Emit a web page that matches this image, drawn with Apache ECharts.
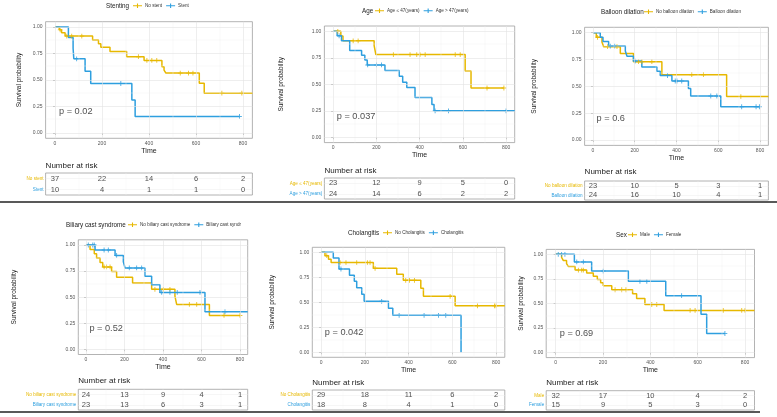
<!DOCTYPE html>
<html><head><meta charset="utf-8">
<script src="https://cdn.jsdelivr.net/npm/echarts@6/dist/echarts.min.js"></script>
<style>html,body{margin:0;padding:0;background:#fff}#c{width:777px;height:417px}</style>
</head><body><div id="c"></div>
<script>
// ---------- shared ticks ----------
const xTicks = [0, 200, 400, 600, 800];
const xMinor = [100, 300, 500, 700];
const yTicks = [0, 0.25, 0.5, 0.75, 1];
const yMinor = [0.125, 0.375, 0.625, 0.875];

// ---------- Panel 1: Stenting ----------
const stentGroups = ['No stent', 'Stent'];
const stentNoT = [0, 18, 28, 43, 160, 185, 195, 234, 305, 379, 455, 464, 472, 614, 635, 840];
const stentNoS = [1, 0.973, 0.946, 0.914, 0.878, 0.843, 0.808, 0.770, 0.72, 0.685, 0.626, 0.594, 0.565, 0.47, 0.376, 0.376];
const stentNoC = [22, 50, 71, 114, 355, 391, 412, 433, 533, 568, 587, 710, 795];
const stentYesT = [0, 57, 77, 80, 128, 152, 327, 341, 785];
const stentYesS = [1, 0.9, 0.8, 0.7, 0.583, 0.467, 0.311, 0.156, 0.156];
const stentYesC = [92, 280, 785];
const stentRisk = [[37, 22, 14, 6, 2], [10, 4, 1, 1, 0]];
const stentP = 'p = 0.02';

// ---------- Panel 2: Age ----------
const ageGroups = ['Age \u2264 47(years)', 'Age > 47(years)'];
const ageLowT = [0, 36, 46, 190, 198, 611, 638, 790];
const ageLowS = [1, 0.955, 0.91, 0.865, 0.78, 0.626, 0.465, 0.465];
const ageLowC = [22, 93, 116, 279, 356, 387, 402, 426, 565, 588, 712, 790];
const ageHighT = [0, 19, 39, 77, 132, 147, 158, 240, 306, 322, 341, 379, 457, 467, 840];
const ageHighS = [1, 0.958, 0.912, 0.82, 0.775, 0.73, 0.683, 0.63, 0.575, 0.52, 0.47, 0.375, 0.31, 0.25, 0.25];
const ageHighC = [28, 160, 201, 224, 472, 534, 800];
const ageRisk = [[23, 12, 9, 5, 0], [24, 14, 6, 2, 2]];
const ageP = 'p = 0.037';

// ---------- Panel 3: Balloon dilation ----------
const balloonGroups = ['No balloon dilation', 'Balloon dilation'];
const balloonNoT = [0, 16, 43, 51, 131, 194, 330, 640, 840];
const balloonNoS = [1, 0.957, 0.913, 0.87, 0.806, 0.73, 0.609, 0.405, 0.405];
const balloonNoC = [22, 70, 115, 218, 234, 282, 473, 529, 708];
const balloonYesT = [0, 35, 48, 75, 155, 163, 194, 234, 306, 322, 378, 457, 468, 612, 797];
const balloonYesS = [1, 0.958, 0.917, 0.875, 0.83, 0.78, 0.735, 0.68, 0.64, 0.6, 0.55, 0.48, 0.41, 0.31, 0.31];
const balloonYesC = [83, 104, 202, 357, 394, 402, 425, 564, 593, 712, 781, 797];
const balloonRisk = [[23, 10, 5, 3, 1], [24, 16, 10, 4, 1]];
const balloonP = 'p = 0.6';

// ---------- Panel 4: Biliary cast syndrome ----------
const biliaryGroups = ['No biliary cast syndrome', 'Biliary cast syndrome'];
const biliaryNoT = [0, 21, 43, 55, 73, 87, 133, 159, 242, 341, 462, 471, 641, 800];
const biliaryNoS = [1, 0.958, 0.917, 0.875, 0.833, 0.79, 0.745, 0.69, 0.635, 0.575, 0.51, 0.43, 0.325, 0.325];
const biliaryNoC = [94, 107, 125, 358, 402, 436, 537, 575, 717, 800];
const biliaryYesT = [0, 47, 151, 194, 203, 306, 341, 384, 618, 840];
const biliaryYesS = [1, 0.952, 0.9, 0.84, 0.78, 0.70, 0.62, 0.545, 0.36, 0.36];
const biliaryYesC = [12, 35, 43, 94, 116, 159, 225, 263, 289, 393, 436, 474, 592, 722];
const biliaryRisk = [[24, 13, 9, 4, 1], [23, 13, 6, 3, 1]];
const biliaryP = 'p = 0.52';

// ---------- Panel 5: Cholangitis ----------
const cholGroups = ['No Cholangitis', 'Cholangitis'];
const cholNoT = [0, 18, 34, 46, 239, 346, 376, 456, 468, 613, 840];
const cholNoS = [1, 0.966, 0.931, 0.897, 0.84, 0.78, 0.72, 0.64, 0.56, 0.465, 0.465];
const cholNoC = [26, 87, 114, 163, 212, 224, 247, 387, 404, 427, 590, 715, 793, 800];
const cholYesT = [0, 56, 82, 130, 152, 163, 186, 197, 308, 328, 640];
const cholYesS = [1, 0.944, 0.833, 0.77, 0.71, 0.645, 0.58, 0.51, 0.44, 0.37, 0];
const cholYesC = [91, 277, 357, 471, 537, 570];
const cholRisk = [[29, 18, 11, 6, 2], [18, 8, 4, 1, 0]];
const cholP = 'p = 0.042';

// ---------- Panel 6: Sex ----------
const sexGroups = ['Male', 'Female'];
const maleT = [0, 25, 32, 46, 54, 82, 131, 159, 176, 190, 201, 237, 325, 342, 377, 458, 840];
const maleS = [1, 0.969, 0.938, 0.906, 0.875, 0.84, 0.81, 0.778, 0.745, 0.712, 0.68, 0.64, 0.6, 0.55, 0.49, 0.43, 0.43];
const maleC = [96, 110, 117, 251, 279, 297, 406, 427, 568, 589, 708, 786, 800];
const femaleT = [0, 79, 152, 307, 465, 614, 638, 715];
const femaleS = [1, 0.923, 0.83, 0.725, 0.58, 0.39, 0.195, 0.195];
const femaleC = [11, 25, 39, 89, 117, 201, 356, 385, 532, 715];
const sexRisk = [[32, 17, 10, 4, 2], [15, 9, 5, 3, 0]];
const sexP = 'p = 0.69';

// ---------- styling / layout ----------
const YEL = '#E7B800', BLU = '#2E9FDF';
const FONT = 'Liberation Sans, Arial, sans-serif';
const CENS = 'path://M0,4h10v2h-10z M4,0h2v10h-2z';
const LEGICON = 'path://M0,4h20v2.4h-20z M8.8,0h2.4v10h-2.4z';

const panels = [
  { title: 'Stenting', groups: stentGroups, curves: [[stentNoT, stentNoS, stentNoC], [stentYesT, stentYesS, stentYesC]], risk: stentRisk, p: stentP,
    box: [45.6, 21.7, 206.8, 116.6], table: [173, 22], yGap: 22.6, leg: [106, 6, 133], nar: 166 },
  { title: 'Age', groups: ageGroups, curves: [[ageLowT, ageLowS, ageLowC], [ageHighT, ageHighS, ageHighC]], risk: ageRisk, p: ageP,
    box: [324.4, 26, 190.3, 116.6], table: [178, 21], yGap: 39.4, leg: [362, 11, 375], nar: 171 },
  { title: 'Balloon dilation', groups: balloonGroups, curves: [[balloonNoT, balloonNoS, balloonNoC], [balloonYesT, balloonYesS, balloonYesC]], risk: balloonRisk, p: balloonP,
    box: [584.6, 27.3, 183.8, 118.1], table: [181, 19], yGap: 46.6, leg: [601, 12, 644], nar: 172 },
  { title: 'Biliary cast syndrome', groups: biliaryGroups, curves: [[biliaryNoT, biliaryNoS, biliaryNoC], [biliaryYesT, biliaryYesS, biliaryYesC]], risk: biliaryRisk, p: biliaryP,
    box: [78.3, 239.8, 169.4, 114.7], table: [389.3, 20.7], yGap: 60.3, leg: [66, 225, 128], nar: 381, cut: 'Biliary cast syndr' },
  { title: 'Cholangitis', groups: cholGroups, curves: [[cholNoT, cholNoS, cholNoC], [cholYesT, cholYesS, cholYesC]], risk: cholRisk, p: cholP,
    box: [312.3, 247.3, 192.5, 110], table: [390, 20], yGap: 36.3, leg: [348, 233, 383], nar: 383 },
  { title: 'Sex', groups: sexGroups, curves: [[maleT, maleS, maleC], [femaleT, femaleS, femaleC]], risk: sexRisk, p: sexP,
    box: [546.2, 249.4, 208.3, 108.2], table: [390.7, 19.3], yGap: 21.2, leg: [616, 235, 628], nar: 383 }
];
const COLORS = [YEL, BLU];

function survAt(T, S, t) { let v = S[0]; for (let i = 0; i < T.length; i++) { if (T[i] <= t) v = S[i]; } return v; }

const grids = [], xAxes = [], yAxes = [], series = [], legends = [], graphics = [];

panels.forEach((pn, i) => {
  const gi = 2 * i, ti = 2 * i + 1;
  const [l, t, w, h] = pn.box;
  grids.push({ left: l, top: t, width: w, height: h, show: true, borderColor: '#a0a0a0', borderWidth: 0.8, backgroundColor: '#fff', containLabel: false, outerBoundsMode: 'none' });
  grids.push({ left: l, top: pn.table[0], width: w, height: pn.table[1], show: true, borderColor: '#a0a0a0', borderWidth: 0.8, backgroundColor: '#fff', containLabel: false, outerBoundsMode: 'none' });

  xAxes.push({ gridIndex: gi, type: 'value', min: -40, max: 840, name: 'Time', nameLocation: 'middle', nameGap: 9,
    nameTextStyle: { fontSize: 7, color: '#222', fontFamily: FONT },
    axisLine: { show: false }, splitLine: { show: false },
    axisTick: { show: true, customValues: xTicks, length: 2, lineStyle: { color: '#666', width: 0.6 } },
    axisLabel: { customValues: xTicks, fontSize: 5, color: '#555', margin: 2.5, fontFamily: FONT } });
  yAxes.push({ gridIndex: gi, type: 'value', min: -0.05, max: 1.05, name: 'Survival probability', nameLocation: 'middle', nameRotate: 90, nameGap: pn.yGap,
    nameTextStyle: { fontSize: 6.5, color: '#222', fontFamily: FONT },
    axisLine: { show: false }, splitLine: { show: false },
    axisTick: { show: true, customValues: yTicks, length: 2, lineStyle: { color: '#666', width: 0.6 } },
    axisLabel: { customValues: yTicks, formatter: v => Number(v).toFixed(2), fontSize: 5, color: '#555', margin: 3, fontFamily: FONT } });
  xAxes.push({ gridIndex: ti, type: 'value', min: -40, max: 840, show: false });
  const g = pn.groups;
  yAxes.push({ gridIndex: ti, type: 'value', min: 0.5, max: 2.5,
    axisLine: { show: false }, axisTick: { show: false }, splitLine: { show: false },
    axisLabel: { customValues: [1, 2], formatter: v => (Number(v) === 2 ? g[0] : g[1]), color: v => (Number(v) === 2 ? YEL : BLU),
      fontSize: 4.6, margin: 2, fontFamily: FONT } });

  // background grid lines of the survival plot
  const gl = [];
  xTicks.forEach(v => gl.push({ xAxis: v, lineStyle: { color: '#e3e3e3', width: 0.6, type: 'solid' } }));
  xMinor.forEach(v => gl.push({ xAxis: v, lineStyle: { color: '#f1f1f1', width: 0.4, type: 'solid' } }));
  yTicks.forEach(v => gl.push({ yAxis: v, lineStyle: { color: '#e3e3e3', width: 0.6, type: 'solid' } }));
  yMinor.forEach(v => gl.push({ yAxis: v, lineStyle: { color: '#f1f1f1', width: 0.4, type: 'solid' } }));
  series.push({ type: 'line', name: 'grid' + i, xAxisIndex: gi, yAxisIndex: gi, data: [], silent: true, z: 1,
    markLine: { silent: true, symbol: ['none', 'none'], label: { show: false }, animation: false, data: gl } });

  // KM curves + censor marks
  pn.curves.forEach((c, j) => {
    const [T, S, C] = c;
    series.push({ type: 'line', name: g[j], xAxisIndex: gi, yAxisIndex: gi, step: 'end', symbol: 'none', showSymbol: false,
      data: T.map((tt, k) => [tt, S[k]]), lineStyle: { color: COLORS[j], width: 1.5 }, itemStyle: { color: COLORS[j] }, z: 3, silent: true });
    series.push({ type: 'scatter', name: g[j], xAxisIndex: gi, yAxisIndex: gi, symbol: CENS, symbolSize: 4.8,
      data: C.map(tt => [tt, survAt(T, S, tt)]), itemStyle: { color: COLORS[j] }, z: 4, silent: true });
  });

  // p-value
  series.push({ type: 'scatter', name: 'p' + i, xAxisIndex: gi, yAxisIndex: gi, data: [[15, 0.2]], symbolSize: 1,
    itemStyle: { color: 'rgba(0,0,0,0)' }, silent: true, z: 5,
    label: { show: true, position: 'right', distance: 0, formatter: () => pn.p, fontSize: 9.2, color: '#222', fontFamily: FONT } });

  // risk table faint lines
  const tl = [];
  [1, 2].forEach(v => tl.push({ yAxis: v, lineStyle: { color: '#ececec', width: 0.5, type: 'solid' } }));
  xTicks.concat(xMinor).forEach(v => tl.push({ xAxis: v, lineStyle: { color: '#f2f2f2', width: 0.4, type: 'solid' } }));
  series.push({ type: 'line', name: 'tgrid' + i, xAxisIndex: ti, yAxisIndex: ti, data: [], silent: true, z: 1,
    markLine: { silent: true, symbol: ['none', 'none'], label: { show: false }, animation: false, data: tl } });
  // risk numbers
  pn.risk.forEach((row, r) => {
    const rowY = r === 0 ? 2 : 1;
    series.push({ type: 'scatter', name: 'risk' + i + '_' + r, xAxisIndex: ti, yAxisIndex: ti, symbolSize: 1,
      data: xTicks.map((x, k) => [x, rowY, row[k]]), itemStyle: { color: 'rgba(0,0,0,0)' }, silent: true, z: 5,
      label: { show: true, position: 'inside', formatter: p => String(p.value[2]), fontSize: 7.5, color: '#222', fontFamily: FONT } });
  });

  // legend
  const cut = pn.cut;
  legends.push({ left: pn.leg[2], top: pn.leg[1] - 2.8, padding: 0, itemWidth: 9, itemHeight: 5, itemGap: 4, selectedMode: false,
    data: g.map((n, j) => ({ name: n, icon: LEGICON, itemStyle: { color: COLORS[j] } })),
    formatter: name => (cut && name === g[1] ? cut : name),
    textStyle: { fontSize: 4.6, color: '#333', fontFamily: FONT, padding: [0, 0, 0, -2] } });

  graphics.push({ type: 'text', x: pn.leg[0], y: pn.leg[1], style: { text: pn.title, fill: '#222', font: '6.3px ' + FONT, verticalAlign: 'middle', align: 'left' } });
  graphics.push({ type: 'text', x: l, y: pn.nar, style: { text: 'Number at risk', fill: '#222', font: '8px ' + FONT, verticalAlign: 'middle', align: 'left' } });
});

graphics.push({ type: 'line', shape: { x1: 0, y1: 202, x2: 777, y2: 202 }, style: { stroke: '#222', lineWidth: 1.5 } });
graphics.push({ type: 'line', shape: { x1: 0, y1: 412, x2: 760, y2: 412 }, style: { stroke: '#222', lineWidth: 1.5 } });

const chart = echarts.init(document.getElementById('c'), null, { renderer: 'canvas' });
chart.setOption({
  backgroundColor: '#fff', animation: false,
  textStyle: { fontFamily: FONT },
  grid: grids, xAxis: xAxes, yAxis: yAxes, series: series, legend: legends, graphic: graphics
});
</script></body></html>
